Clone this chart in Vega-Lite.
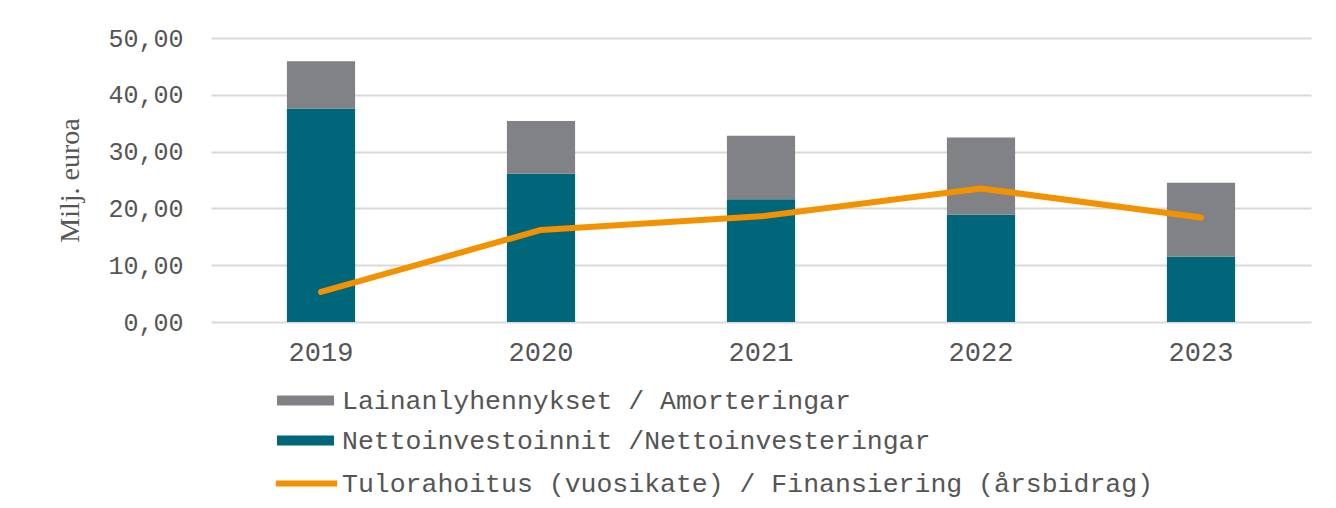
{
  "$schema": "https://vega.github.io/schema/vega-lite/v6.json",
  "width": 1100,
  "height": 284,
  "autosize": {"type": "none"},
  "padding": {"left": 211, "top": 38, "right": 25, "bottom": 186},
  "background": "white",
  "datasets": {
    "bars": [
      {"year": "2019", "serie": "Nettoinvestoinnit /Nettoinvesteringar", "value": 37.6},
      {"year": "2019", "serie": "Lainanlyhennykset / Amorteringar", "value": 8.3},
      {"year": "2020", "serie": "Nettoinvestoinnit /Nettoinvesteringar", "value": 26.1},
      {"year": "2020", "serie": "Lainanlyhennykset / Amorteringar", "value": 9.3},
      {"year": "2021", "serie": "Nettoinvestoinnit /Nettoinvesteringar", "value": 21.6},
      {"year": "2021", "serie": "Lainanlyhennykset / Amorteringar", "value": 11.2},
      {"year": "2022", "serie": "Nettoinvestoinnit /Nettoinvesteringar", "value": 18.9},
      {"year": "2022", "serie": "Lainanlyhennykset / Amorteringar", "value": 13.6},
      {"year": "2023", "serie": "Nettoinvestoinnit /Nettoinvesteringar", "value": 11.5},
      {"year": "2023", "serie": "Lainanlyhennykset / Amorteringar", "value": 13.0}
    ],
    "line": [
      {"year": "2019", "serie": "Tulorahoitus (vuosikate) / Finansiering (årsbidrag)", "value": 5.3},
      {"year": "2020", "serie": "Tulorahoitus (vuosikate) / Finansiering (årsbidrag)", "value": 16.2},
      {"year": "2021", "serie": "Tulorahoitus (vuosikate) / Finansiering (årsbidrag)", "value": 18.6},
      {"year": "2022", "serie": "Tulorahoitus (vuosikate) / Finansiering (årsbidrag)", "value": 23.5},
      {"year": "2023", "serie": "Tulorahoitus (vuosikate) / Finansiering (årsbidrag)", "value": 18.4}
    ]
  },
  "encoding": {
    "x": {
      "field": "year",
      "type": "nominal",
      "sort": null,
      "scale": {"paddingInner": 0.69, "paddingOuter": 0.345},
      "axis": {
        "title": null,
        "labelAngle": 0,
        "labelFont": "Liberation Mono",
        "labelFontSize": 27,
        "labelColor": "#555555",
        "labelPadding": 17,
        "domain": false,
        "ticks": false,
        "tickSize": 0,
        "grid": false
      }
    }
  },
  "layer": [
    {
      "data": {"name": "bars"},
      "mark": {"type": "bar"},
      "encoding": {
        "y": {
          "field": "value",
          "type": "quantitative",
          "stack": "zero",
          "scale": {"domain": [0, 50], "nice": false},
          "axis": {
            "title": "Milj. euroa",
            "titleFont": "Liberation Serif",
            "titleFontSize": 28,
            "titleFontWeight": "normal",
            "titleColor": "#555555",
            "titlePadding": 23,
            "values": [0, 10, 20, 30, 40, 50],
            "labelExpr": "replace(format(datum.value, '.2f'), '.', ',')",
            "labelFont": "Liberation Mono",
            "labelFontSize": 25,
            "labelColor": "#555555",
            "labelPadding": 28,
            "domain": false,
            "ticks": false,
            "tickSize": 0,
            "grid": true,
            "gridColor": "#d9d9d9",
            "gridWidth": 2
          }
        },
        "fill": {
          "field": "serie",
          "type": "nominal",
          "scale": {
            "domain": [
              "Lainanlyhennykset / Amorteringar",
              "Nettoinvestoinnit /Nettoinvesteringar"
            ],
            "range": ["#808285", "#00677A"]
          },
          "legend": {
            "title": null,
            "orient": "none",
            "legendX": 80,
            "legendY": 348,
            "direction": "vertical",
            "padding": 0,
            "labelFont": "Liberation Mono",
            "labelFontSize": 26.5,
            "labelColor": "#555555",
            "labelLimit": 1000,
            "symbolSize": 812,
            "symbolType": "M-2,-0.35H2V0.35H-2Z",
            "symbolStrokeWidth": 0,
            "symbolOpacity": 1,
            "labelOffset": 22,
            "rowPadding": 12
          }
        },
        "order": {"field": "serie", "sort": "descending"}
      }
    },
    {
      "data": {"name": "line"},
      "mark": {"type": "line", "strokeWidth": 6, "strokeCap": "round", "strokeJoin": "round"},
      "encoding": {
        "y": {"field": "value", "type": "quantitative"},
        "stroke": {
          "field": "serie",
          "type": "nominal",
          "scale": {
            "domain": ["Tulorahoitus (vuosikate) / Finansiering (årsbidrag)"],
            "range": ["#F39200"]
          },
          "legend": {
            "title": null,
            "orient": "none",
            "legendX": 78,
            "legendY": 428,
            "direction": "vertical",
            "padding": 0,
            "labelFont": "Liberation Mono",
            "labelFontSize": 26.5,
            "labelColor": "#555555",
            "labelLimit": 1000,
            "symbolSize": 812,
            "symbolType": "M-2.15,0H2.15",
            "symbolStrokeWidth": 6,
            "symbolOpacity": 1,
            "labelOffset": 18
          }
        }
      }
    }
  ],
  "config": {
    "view": {"stroke": null}
  }
}
